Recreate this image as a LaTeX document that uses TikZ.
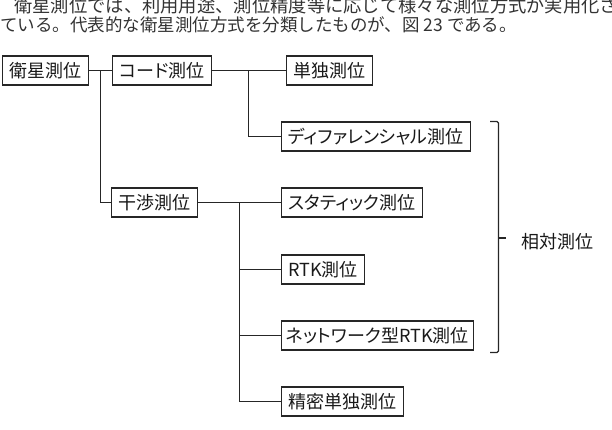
\documentclass[tikz,border=0pt]{standalone}
\usepackage{fontspec}
\setmainfont{Noto Sans CJK JP}
\newfontfamily\boxfont[RawFeature=+palt]{Noto Sans CJK JP}
\usepackage{tikz}
\usetikzlibrary{positioning}

\begin{document}
\begin{tikzpicture}[
    x=1pt, y=1pt,
    box/.style={rectangle, draw=black!85, line width=1.2pt, anchor=west, minimum height=29pt, inner ysep=0pt, inner xsep=7pt, text=black!90, font=\boxfont\fontsize{18}{20}\selectfont},
    link/.style={draw=black!85, line width=1.2pt},
    para/.style={anchor=base west, inner sep=0pt, text=black!80}
]
\useasboundingbox (0,0) rectangle (612,-430);
% lead-in text above the figure
\node[para, font=\fontsize{18.3}{20}\selectfont] (line1) at (14,-12.5) {衛星測位では、利用用途、測位精度等に応じて様々な測位方式が実用化さ};
\node[para, font=\fontsize{17.5}{20}\selectfont] (line2) at (0,-31.5) {ている。代表的な衛星測位方式を分類したものが、図 23 である。};
% tree
\node[box, minimum width=86pt] (sat) at (2,-70.5) {衛星測位};
\node[box, minimum width=96pt, right=23pt of sat] (code) {コード測位};
\node[box, minimum width=86pt, right=73.5pt of code] (single) {単独測位};
\node[box] (dgps) at (280.5,-136.5) {ディファレンシャル測位};
\node[box] (interf) at (111,-202.5) {干渉測位};
\node[box] (static) at (280.5,-202.5) {スタティック測位};
\node[box] (rtk) at (280.5,-269.5) {RTK測位};
\node[box, inner xsep=5pt] (nrtk) at (280.5,-335.5) {ネットワーク型RTK測位};
\node[box] (ppp) at (280.5,-401.5) {精密単独測位};
\coordinate[right=11.5pt of sat] (sat-j);
\coordinate[right=36pt of code] (code-j);
\coordinate[right=41pt of interf] (interf-j);
\draw[link] (sat) -- (code);
\draw[link] (sat-j) |- (interf);
\draw[link] (code) -- (single);
\draw[link] (code-j) |- (dgps);
\draw[link] (interf) -- (static);
\draw[link] (interf-j) |- (ppp);
\draw[link] (interf-j |- rtk) -- (rtk);
\draw[link] (interf-j |- nrtk) -- (nrtk);
% bracket for relative positioning
\coordinate (brace-t) at (490,-121.5);
\coordinate (brace-b) at (490,-352.5);
\coordinate (brace-m) at (498.5,-238);
\node[anchor=west, inner sep=0pt, text=black!90, font=\fontsize{18}{20}\selectfont] (rel) at (521,-241.5) {相対測位};
\draw[link, rounded corners=1.5pt] (brace-t) -- ++(8.5,0) |- (brace-b);
\draw[link] (brace-m) -- ++(7.5,0);
\end{tikzpicture}
\end{document}
